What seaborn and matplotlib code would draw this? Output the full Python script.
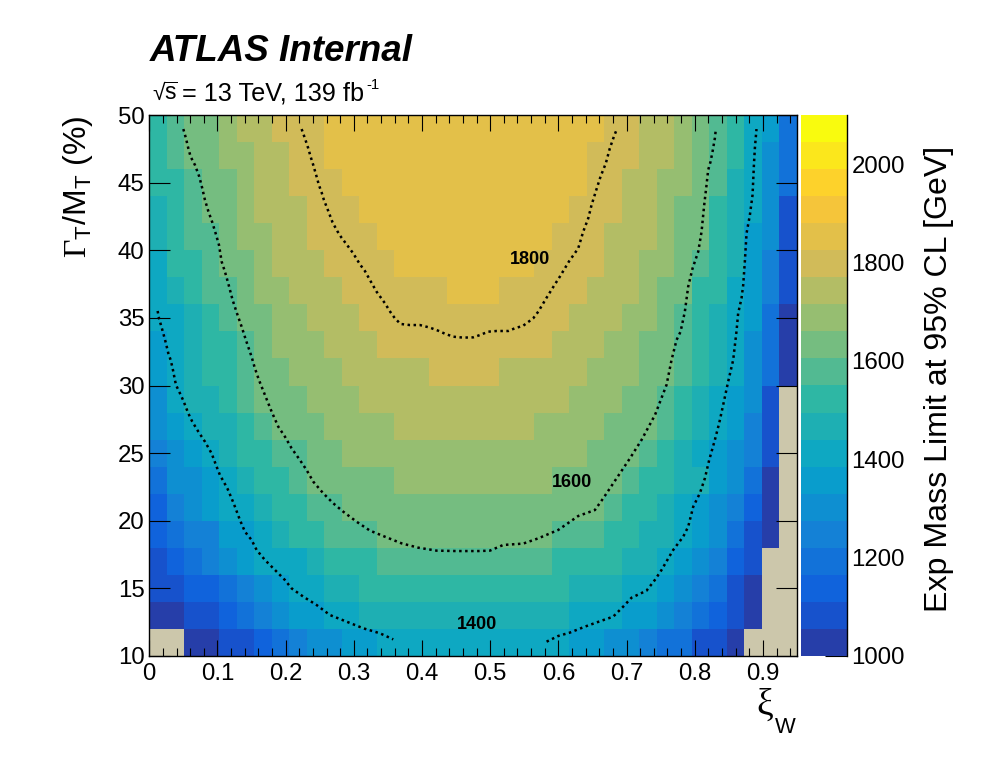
import matplotlib
matplotlib.use("Agg")
import matplotlib.pyplot as plt
import numpy as np
import seaborn as sns
from matplotlib.colors import ListedColormap
from matplotlib.ticker import MultipleLocator

# colour band of every cell (0 = lowest band, -1 = no limit), top row first
row_48 = [9, 10, 11, 11, 12, 13, 13, 14, 14, 14, 15, 15, 15, 15, 15, 15, 15, 15, 15, 15, 15, 15, 15, 15, 15, 15, 14, 14, 13, 13, 12, 11, 10, 9, 7, 6, 3]
row_46 = [9, 10, 11, 11, 12, 12, 13, 13, 14, 14, 15, 15, 15, 15, 15, 15, 15, 15, 15, 15, 15, 15, 15, 15, 15, 14, 14, 14, 13, 13, 12, 11, 10, 9, 7, 5, 3]
row_44 = [9, 9, 10, 11, 11, 12, 13, 13, 14, 14, 14, 15, 15, 15, 15, 15, 15, 15, 15, 15, 15, 15, 15, 15, 15, 14, 14, 13, 13, 12, 12, 11, 10, 8, 7, 5, 3]
row_42 = [8, 9, 10, 11, 11, 12, 13, 13, 13, 14, 14, 14, 15, 15, 15, 15, 15, 15, 15, 15, 15, 15, 15, 15, 14, 14, 14, 13, 13, 12, 11, 11, 9, 8, 7, 5, 1]
row_40 = [8, 9, 10, 10, 11, 12, 12, 13, 13, 14, 14, 14, 14, 15, 15, 15, 15, 15, 15, 15, 15, 15, 15, 14, 14, 14, 13, 13, 13, 12, 11, 11, 9, 8, 6, 5, 1]
row_38 = [7, 9, 9, 10, 11, 11, 12, 13, 13, 13, 14, 14, 14, 14, 15, 15, 15, 15, 15, 15, 15, 15, 14, 14, 14, 14, 13, 13, 12, 12, 11, 10, 9, 8, 6, 4, 1]
row_36 = [7, 8, 9, 10, 10, 11, 12, 12, 13, 13, 13, 14, 14, 14, 14, 14, 14, 15, 15, 15, 14, 14, 14, 14, 14, 13, 13, 13, 12, 11, 11, 9, 9, 7, 6, 4, 1]
row_34 = [7, 7, 8, 9, 10, 11, 11, 12, 12, 13, 13, 13, 14, 14, 14, 14, 14, 14, 14, 14, 14, 14, 14, 14, 13, 13, 13, 12, 12, 11, 10, 9, 8, 7, 6, 3, 0]
row_32 = [6, 7, 8, 9, 9, 10, 11, 12, 12, 12, 13, 13, 13, 14, 14, 14, 14, 14, 14, 14, 14, 14, 14, 13, 13, 13, 12, 12, 11, 11, 10, 9, 8, 7, 5, 3, 0]
row_30 = [6, 7, 8, 9, 9, 10, 11, 11, 12, 12, 12, 13, 13, 13, 13, 13, 14, 14, 14, 14, 13, 13, 13, 13, 13, 12, 12, 12, 11, 11, 10, 9, 8, 7, 5, 3, 0]
row_28 = [5, 7, 8, 8, 9, 10, 11, 11, 11, 12, 12, 12, 13, 13, 13, 13, 13, 13, 13, 13, 13, 13, 13, 13, 12, 12, 12, 11, 11, 10, 9, 8, 7, 6, 5, 1, -1]
row_26 = [5, 6, 7, 8, 8, 9, 10, 11, 11, 11, 12, 12, 12, 12, 13, 13, 13, 13, 13, 13, 13, 13, 12, 12, 12, 12, 11, 11, 11, 10, 9, 8, 7, 6, 4, 1, -1]
row_24 = [4, 5, 6, 7, 8, 9, 9, 10, 10, 11, 11, 12, 12, 12, 12, 12, 12, 12, 12, 12, 12, 12, 12, 12, 12, 11, 11, 11, 10, 9, 8, 7, 6, 5, 4, 1, -1]
row_22 = [3, 5, 5, 6, 7, 8, 9, 9, 10, 11, 11, 11, 11, 11, 12, 12, 12, 12, 12, 12, 12, 12, 12, 11, 11, 11, 11, 10, 9, 9, 8, 8, 6, 5, 3, 0, -1]
row_20 = [2, 4, 5, 6, 7, 7, 8, 9, 9, 10, 10, 11, 11, 11, 11, 11, 11, 11, 11, 11, 11, 11, 11, 11, 11, 11, 10, 9, 9, 8, 7, 6, 5, 4, 2, 0, -1]
row_18 = [2, 3, 4, 4, 6, 6, 7, 8, 9, 9, 10, 10, 10, 11, 11, 11, 11, 11, 11, 11, 11, 11, 11, 10, 10, 10, 9, 9, 8, 8, 7, 6, 5, 3, 1, 0, -1]
row_16 = [1, 2, 3, 4, 5, 6, 7, 7, 7, 8, 9, 9, 9, 10, 10, 10, 10, 10, 10, 10, 10, 10, 10, 9, 9, 9, 9, 8, 8, 7, 6, 5, 4, 2, 1, -1, -1]
row_14 = [1, 1, 2, 2, 3, 4, 5, 6, 7, 7, 8, 8, 9, 9, 9, 9, 9, 9, 9, 9, 9, 9, 9, 9, 8, 8, 8, 7, 7, 6, 5, 4, 3, 1, 0, -1, -1]
row_12 = [0, 0, 1, 1, 2, 3, 4, 5, 6, 6, 7, 7, 8, 8, 8, 8, 8, 8, 8, 8, 8, 8, 8, 8, 7, 7, 7, 6, 6, 5, 4, 3, 2, 1, 0, -1, -1]
row_10 = [-1, -1, 0, 0, 1, 1, 2, 3, 4, 5, 5, 6, 6, 7, 7, 7, 7, 7, 7, 7, 7, 7, 7, 7, 6, 6, 5, 5, 4, 3, 3, 1, 1, 0, -1, -1, -1]

band_colors = [
    (38, 62, 169), (23, 82, 204), (16, 99, 220), (18, 114, 217), (20, 129, 214),
    (14, 143, 209), (9, 157, 204), (14, 168, 194), (30, 175, 179), (46, 183, 164),
    (82, 186, 146), (117, 189, 128), (150, 190, 113), (179, 189, 101), (209, 187, 89),
    (227, 192, 73), (245, 197, 58), (253, 210, 43), (251, 231, 28), (249, 251, 14),
]

x_ticks = [0, 0.1, 0.2, 0.3, 0.4, 0.5, 0.6, 0.7, 0.8, 0.9]
x_tick_labels = ["0", "0.1", "0.2", "0.3", "0.4", "0.5", "0.6", "0.7", "0.8", "0.9"]
y_ticks = [10, 15, 20, 25, 30, 35, 40, 45, 50]
cbar_ticks = [1000, 1200, 1400, 1600, 1800, 2000]

# expected limit contours
xi_1800 = [.2234, .2283, .2331, .2366, .2405, .2454, .2488, .2527, .2561, .2625, .2688, .2757, .2815, .2893, .2991, .3089, .3162, .3236, .3333, .3456, .3539, .3602, .3685, .3822, .3969, .4115, .4238, .4335, .4457, .4604, .4751, .4849, .4971, .5093, .5264, .5362, .5484, .5631, .5705, .5827, .5949, .6022, .6154, .6291, .6364, .6438, .6487, .6551, .6618, .6696, .6755, .6814, .6858]
gamma_1800 = [48.96, 48.27, 47.54, 46.92, 46.30, 45.44, 44.82, 44.28, 43.72, 42.90, 42.06, 41.42, 40.96, 40.44, 39.77, 38.96, 38.47, 37.80, 36.94, 36.08, 35.41, 34.97, 34.55, 34.47, 34.47, 34.28, 34.05, 33.83, 33.61, 33.54, 33.56, 33.73, 33.98, 34.03, 34.03, 34.23, 34.42, 34.97, 35.46, 36.49, 37.48, 38.05, 39.16, 40.14, 41.37, 42.36, 43.35, 44.38, 45.44, 46.43, 47.54, 48.40, 48.96]

xi_1600 = [.0499, .0538, .0572, .0606, .0670, .0733, .0777, .0816, .0865, .0924, .0973, .1022, .1061, .1109, .1158, .1222, .1281, .1354, .1417, .1500, .1549, .1608, .1696, .1794, .1891, .1989, .2087, .2209, .2307, .2405, .2551, .2698, .2845, .3040, .3236, .3456, .3700, .3944, .4213, .4506, .4824, .4996, .5191, .5484, .5705, .5998, .6291, .6535, .6658, .6854, .7049, .7219, .7417, .7586, .7660, .7733, .7792, .7855, .7904, .7968, .8051, .8100, .8139, .8173, .8197, .8232, .8261, .8295, .8310]
gamma_1600 = [48.96, 48.27, 47.54, 46.92, 46.30, 45.44, 44.58, 43.72, 42.90, 42.06, 41.25, 40.39, 39.16, 38.42, 37.55, 36.32, 35.41, 34.35, 33.36, 32.13, 31.27, 30.41, 29.30, 28.07, 26.96, 26.22, 25.36, 24.49, 23.75, 22.89, 22.03, 21.29, 20.67, 19.93, 19.27, 18.82, 18.33, 18.01, 17.79, 17.76, 17.76, 17.79, 18.21, 18.31, 18.70, 19.32, 20.35, 20.79, 21.66, 23.14, 24.61, 25.97, 27.82, 30.04, 31.89, 33.36, 33.98, 35.46, 37.31, 38.66, 39.89, 41.37, 43.35, 44.82, 45.93, 46.55, 47.29, 48.27, 48.96]

xi_1400_left = [.0122, .0142, .0171, .0205, .0244, .0279, .0313, .0342, .0376, .0391, .0450, .0499, .0572, .0630, .0719, .0816, .0914, .0987, .1036, .1144, .1207, .1256, .1329, .1403, .1500, .1574, .1696, .1867, .1989, .2087, .2258, .2454, .2649, .2893, .3138, .3382, .3578]
gamma_1400_left = [35.51, 34.97, 34.47, 33.86, 33.12, 32.38, 31.89, 31.27, 30.41, 30.04, 29.42, 28.88, 27.94, 27.33, 26.59, 25.85, 24.98, 24.00, 23.38, 22.40, 21.66, 21.04, 20.06, 19.19, 18.58, 17.84, 17.10, 16.24, 15.62, 15.00, 14.39, 13.77, 13.03, 12.54, 12.05, 11.68, 11.23]
xi_1400_right = [.5827, .5998, .6169, .6389, .6633, .6804, .6951, .7073, .7293, .7415, .7513, .7684, .7831, .7904, .7978, .8075, .8149, .8212, .8295, .8358, .8417, .8490, .8564, .8612, .8637, .8686, .8711, .8735, .8760, .8809, .8848, .8868, .8882, .8906]
gamma_1400_right = [11.06, 11.48, 11.73, 12.17, 12.61, 12.91, 13.65, 14.31, 14.83, 15.62, 16.36, 17.84, 18.82, 19.56, 21.04, 22.03, 23.14, 24.49, 25.97, 27.20, 28.56, 30.28, 31.89, 33.98, 35.34, 36.44, 37.43, 39.16, 41.25, 42.61, 44.09, 46.30, 47.54, 48.96]

WIDTH, HEIGHT = 996, 772
LEFT, RIGHT, TOP, BOTTOM = 149.3, 797, 115, 656
XI_MAX = 0.95
MASS_MIN, MASS_MAX = 1000, 2100
DOTS = (0, (1.0, 1.4))


def box(x0, x1, y0, y1):
    return [x0 / WIDTH, 1 - y1 / HEIGHT, (x1 - x0) / WIDTH, (y1 - y0) / HEIGHT]


def fig_text(fig, x, y, text, **kwargs):
    # x, y in pixels from the top left, y is the baseline
    fig.text(x / WIDTH, 1 - y / HEIGHT, text, va="baseline", **kwargs)


def draw_contour(ax, xi, gamma):
    sns.lineplot(x=xi, y=gamma, ax=ax, sort=False, estimator=None, color="black",
                 linewidth=1.8, linestyle=DOTS)


def main():
    sns.set_theme(style="ticks", rc={
        "text.color": "black", "axes.labelcolor": "black", "axes.edgecolor": "black",
        "xtick.color": "black", "ytick.color": "black",
    })
    plt.rcParams["font.family"] = ["Liberation Sans", "DejaVu Sans"]
    plt.rcParams["mathtext.fontset"] = "custom"
    plt.rcParams["mathtext.rm"] = "Liberation Sans"
    plt.rcParams["mathtext.cal"] = "Liberation Serif"

    rows = [row_48, row_46, row_44, row_42, row_40, row_38, row_36, row_34, row_32, row_30,
            row_28, row_26, row_24, row_22, row_20, row_18, row_16, row_14, row_12, row_10]
    bands = np.array(rows, dtype=float)
    band_width = (MASS_MAX - MASS_MIN) / len(band_colors)
    limits = np.where(bands < 0, np.nan, MASS_MIN + band_width * (bands + 0.5))

    cmap = ListedColormap([tuple(c / 255 for c in rgb) for rgb in band_colors])

    fig = plt.figure(figsize=(WIDTH / 100, HEIGHT / 100), dpi=100)
    ax = fig.add_axes(box(LEFT, RIGHT, TOP, BOTTOM))
    cax = fig.add_axes(box(801, 846.6, TOP, BOTTOM))
    ax.set_facecolor((204 / 255, 199 / 255, 171 / 255))

    sns.heatmap(limits, ax=ax, cmap=cmap, vmin=MASS_MIN, vmax=MASS_MAX, cbar_ax=cax,
                xticklabels=False, yticklabels=False)
    ax.tick_params(left=False, bottom=False)

    # frame in physical units on top of the cell grid
    frame = fig.add_axes(box(LEFT, RIGHT, TOP, BOTTOM), facecolor="none")
    draw_contour(frame, xi_1800, gamma_1800)
    draw_contour(frame, xi_1600, gamma_1600)
    draw_contour(frame, xi_1400_left, gamma_1400_left)
    draw_contour(frame, xi_1400_right, gamma_1400_right)
    frame.set_xlim(0, XI_MAX)
    frame.set_ylim(10, 50)

    frame.set_xticks(x_ticks, x_tick_labels)
    frame.set_yticks(y_ticks)
    frame.xaxis.set_minor_locator(MultipleLocator(0.02))
    frame.tick_params(axis="x", which="major", direction="in", top=True, length=11.5,
                      width=0.8, labelsize=17.3, pad=5)
    frame.tick_params(axis="x", which="minor", direction="in", top=True, length=5.8, width=0.8)
    frame.tick_params(axis="y", which="major", direction="in", right=True, length=15,
                      width=0.8, labelsize=17.3, pad=3.5)
    for spine in frame.spines.values():
        spine.set_linewidth(1.0)
        spine.set_visible(True)

    frame.set_xlabel("\u03be", fontsize=27, family="Liberation Serif", va="baseline")
    frame.xaxis.set_label_coords((773.5 - LEFT) / (RIGHT - LEFT), -(715 - BOTTOM) / (BOTTOM - TOP))
    frame.xaxis.label.set_horizontalalignment("right")
    fig_text(fig, 775, 733, "W", fontsize=15.8)
    frame.set_ylabel(r"$\mathcal{\Gamma}_{\mathrm{T}}/\mathrm{M}_{\mathrm{T}}$ (%)",
                     fontsize=23, loc="top", labelpad=16)

    for label, x, y in [("1800", 0.559, 39.33), ("1600", 0.62, 22.83), ("1400", 0.481, 12.33)]:
        frame.text(x, y, label, fontsize=13, fontweight="bold", ha="center", va="center")

    cbar = ax.collections[0].colorbar
    cbar.outline.set_visible(False)
    cax.spines["right"].set_visible(True)
    cax.spines["right"].set_linewidth(1.0)
    cbar.set_ticks(cbar_ticks)
    cax.minorticks_off()
    cax.tick_params(axis="y", direction="in", length=16, width=0.8, labelsize=17.3, pad=3.5)
    cbar.set_label("Exp Mass Limit at 95% CL [GeV]", fontsize=23.1)
    cax.yaxis.set_label_coords(2.69, 0.513)

    fig_text(fig, 150, 61, "ATLAS Internal", fontsize=26.5, fontweight="bold", fontstyle="italic")
    fig_text(fig, 152, 100, "\u221a$\\overline{\\mathrm{s}}$", fontsize=16.5)
    fig_text(fig, 182, 100, "= 13 TeV, 139 fb", fontsize=18.2)
    fig_text(fig, 366, 89, "-1", fontsize=10.8)

    fig.savefig("out.png", dpi=100)
    plt.close(fig)


if __name__ == "__main__":
    main()
